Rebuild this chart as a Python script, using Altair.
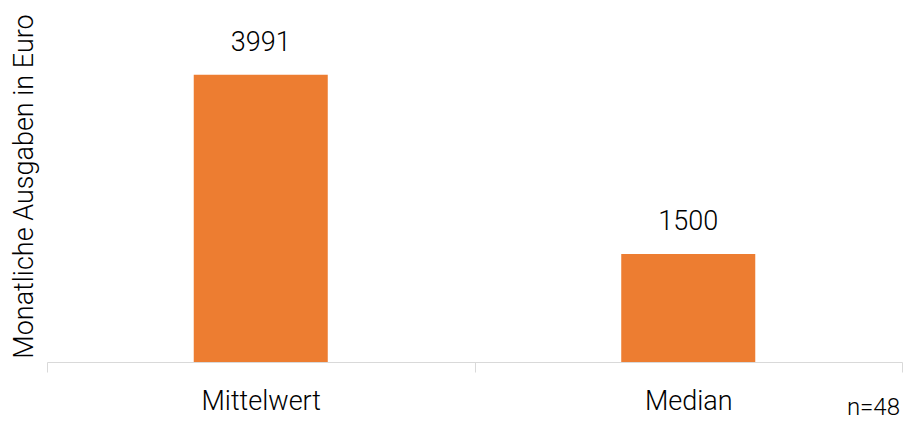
import altair as alt
import pandas as pd

categories = ["Mittelwert", "Median"]
values = [3991, 1500]
note = "n=48"
y_title = "Monatliche Ausgaben in Euro"

df = pd.DataFrame({"cat": categories, "val": values})

FONT = "Roboto"
ORANGE = "#ED7D31"
FS = 27

x_enc = alt.X(
    "cat:N",
    sort=categories,
    scale=alt.Scale(paddingInner=0, paddingOuter=0),
    axis=alt.Axis(
        title=None,
        labelAngle=0,
        labelFont=FONT,
        labelFontSize=FS,
        labelFontWeight=300,
        labelColor="#000000",
        labelPadding=16,
        tickBand="extent",
        tickSize=10,
        tickColor="#D9D9D9",
        domainColor="#D9D9D9",
        tickWidth=1,
        domainWidth=1,
    ),
)
y_enc = alt.Y(
    "val:Q",
    scale=alt.Scale(domain=[0, 4500], nice=False),
    axis=alt.Axis(
        title=y_title,
        labels=False,
        ticks=False,
        domain=False,
        grid=False,
        titleFont=FONT,
        titleFontSize=FS,
        titleFontWeight=300,
        titleColor="#000000",
        titleX=-23,
        titleY=148,
        titleAngle=270,
        titleAlign="center",
        titleBaseline="middle",
    ),
)

bars = alt.Chart(df).mark_bar(color=ORANGE, width=alt.RelativeBandSize(0.3135)).encode(
    x=x_enc, y=y_enc
)
labels = alt.Chart(df).mark_text(
    font=FONT, fontSize=FS, fontWeight=300, color="#000000", baseline="bottom", dy=-18
).encode(x=alt.X("cat:N", sort=categories), y="val:Q", text="val:Q")

note_df = pd.DataFrame({"t": [note]})
note_mark = alt.Chart(note_df).mark_text(
    font=FONT, fontSize=24, fontWeight=300, color="#000000", align="right", baseline="alphabetic"
).encode(x=alt.value(853), y=alt.value(377), text="t:N")

chart = (
    alt.layer(bars, labels, note_mark)
    .properties(
        width=855,
        height=324,
        autosize=alt.AutoSizeParams(type="none"),
        padding={"left": 39, "top": 30, "right": 4, "bottom": 62},
    )
    .configure_view(stroke=None)
)

chart.save("out.html", embed_options={"renderer": "svg", "actions": False})
